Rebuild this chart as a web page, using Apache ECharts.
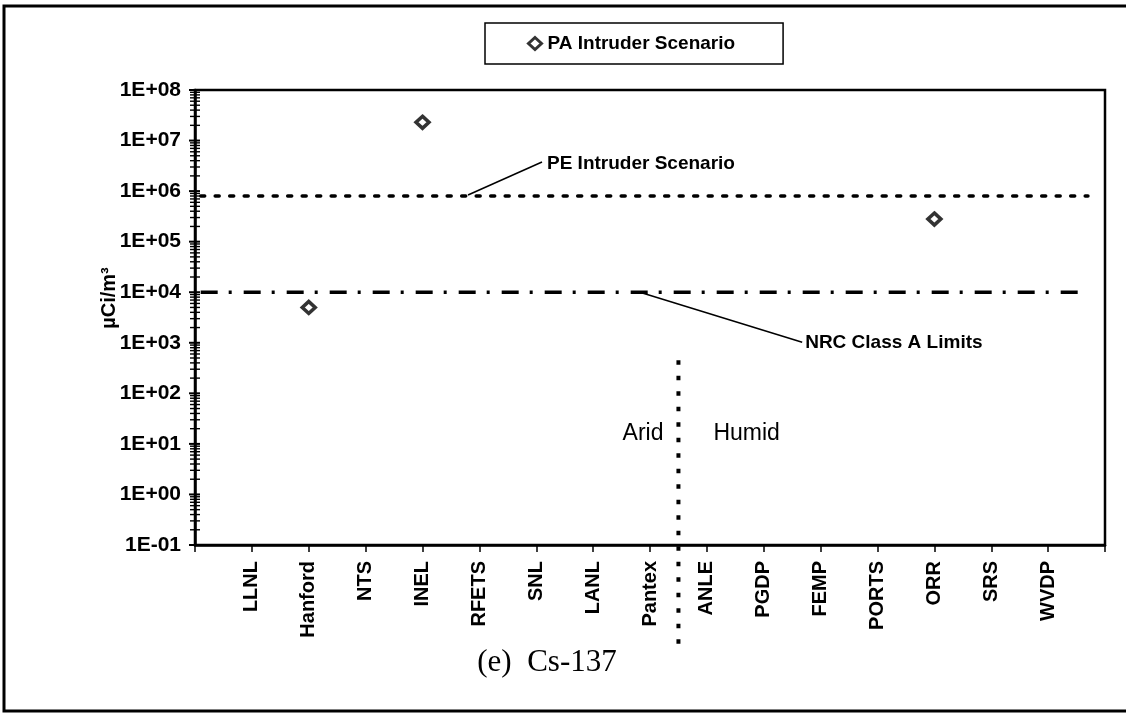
<!DOCTYPE html>
<html>
<head>
<meta charset="utf-8">
<script src="https://cdn.jsdelivr.net/npm/echarts@6/dist/echarts.min.js"></script>
<style>
  html, body { margin: 0; padding: 0; background: #fff; }
  #chart { width: 1126px; height: 715px; }
</style>
</head>
<body>
<div id="chart"></div>
<script>
// DOE sites, arid sites first, then humid sites
const sites = ['LLNL', 'Hanford', 'NTS', 'INEL', 'RFETS', 'SNL', 'LANL', 'Pantex',
               'ANLE', 'PGDP', 'FEMP', 'PORTS', 'ORR', 'SRS', 'WVDP'];

// PA intruder scenario concentrations (µCi/m³)
const paSites = ['Hanford', 'INEL', 'ORR'];
const paValues = [5.0e3, 2.3e7, 2.8e5];

// Reference levels (µCi/m³)
const peIntruderLevel = 8.0e5;
const nrcClassALimit = 1.0e4;

// Log axis decade labels, from 1E-01 up to 1E+08
const yTickLabels = ['1E-01', '1E+00', '1E+01', '1E+02', '1E+03', '1E+04', '1E+05', '1E+06', '1E+07', '1E+08'];
const minorMultipliers = [2, 3, 4, 5, 6, 7, 8, 9];

const FONT = "'Liberation Sans', Arial, sans-serif";
const SERIF = "'Liberation Serif', 'Times New Roman', serif";

// x positions: site i sits at i + 1 on a 0..16 axis
const siteX = name => sites.indexOf(name) + 1;
const lineStartX = 0.1;
const lineEndX = 15.7;
const dividerX = siteX('Pantex') + 0.5;

// tick marks for the log axis: decades and the 2..9 steps between them
const tickMarks = [];
yTickLabels.forEach((lab, i) => {
  const decade = Math.pow(10, i - 1);
  tickMarks.push([0, decade, 1]);
  if (i < yTickLabels.length - 1) {
    minorMultipliers.forEach(m => tickMarks.push([0, m * decade, 0]));
  }
});

const chart = echarts.init(document.getElementById('chart'), null, { renderer: 'canvas' });

const option = {
  animation: false,
  backgroundColor: '#fff',
  grid: {
    left: 195, top: 90, width: 910, height: 455,
    show: true, borderColor: '#000', borderWidth: 2.5, backgroundColor: 'transparent'
  },
  legend: {
    data: ['PA Intruder Scenario'],
    left: 485, top: 23,
    padding: [11, 48, 11, 42],
    itemWidth: 13, itemHeight: 12, itemGap: 0,
    itemStyle: { borderWidth: 3, borderColor: '#000', color: '#fff' },
    borderColor: '#000', borderWidth: 1.5,
    textStyle: { fontFamily: FONT, fontWeight: 'bold', fontSize: 19, color: '#000', padding: [0, 0, 0, 1] }
  },
  xAxis: {
    type: 'value', min: 0, max: 16, interval: 1,
    splitLine: { show: false },
    axisLine: { lineStyle: { color: '#000', width: 2.5 } },
    axisTick: { length: 7, lineStyle: { color: '#000', width: 1.5 } },
    axisLabel: {
      rotate: 90, margin: 16, color: '#000',
      fontFamily: FONT, fontWeight: 'bold', fontSize: 20,
      formatter: v => sites[v - 1] || ''
    }
  },
  yAxis: {
    type: 'log', logBase: 10, min: 0.1, max: 1e8,
    splitLine: { show: false },
    axisLine: { lineStyle: { color: '#000', width: 2.5 } },
    axisTick: { show: false },
    axisLabel: {
      margin: 14, color: '#000',
      fontFamily: FONT, fontWeight: 'bold', fontSize: 21,
      formatter: v => yTickLabels[Math.round(Math.log10(v)) + 1]
    }
  },
  series: [
    {
      name: 'ticks',
      type: 'custom',
      silent: true,
      clip: false,
      data: tickMarks,
      renderItem: (params, api) => {
        const p = api.coord([api.value(0), api.value(1)]);
        const major = api.value(2) === 1;
        return {
          type: 'line',
          shape: { x1: p[0] - (major ? 6 : 5), y1: p[1], x2: p[0] + 5, y2: p[1] },
          style: { stroke: '#000', lineWidth: major ? 2 : 1.4 }
        };
      }
    },
    {
      name: 'PE Intruder Scenario',
      type: 'line',
      silent: true,
      symbol: 'none',
      data: [[lineStartX, peIntruderLevel], [lineEndX, peIntruderLevel]],
      lineStyle: { color: '#000', width: 3.5, type: [4, 10.5], cap: 'round' }
    },
    {
      name: 'NRC Class A Limits',
      type: 'line',
      silent: true,
      symbol: 'none',
      data: [[lineStartX, nrcClassALimit], [lineEndX, nrcClassALimit]],
      lineStyle: { color: '#000', width: 3.5, type: [17, 11, 3, 12] }
    },
    {
      name: 'PA Intruder Scenario',
      type: 'scatter',
      symbol: 'diamond',
      symbolSize: [13, 12],
      itemStyle: { color: '#fff', borderColor: '#000', borderWidth: 3.5 },
      data: paSites.map((s, i) => [siteX(s), paValues[i]]),
      z: 5
    }
  ]
};

chart.setOption(option);

// annotations placed from axis coordinates
const px = (x, y) => chart.convertToPixel({ gridIndex: 0 }, [x, y]);
const gridBottom = px(0, 0.1)[1];

const peAnchor = px(4.8, peIntruderLevel);
const nrcAnchor = px(7.88, nrcClassALimit);
const divTop = px(dividerX, 450);
const zoneLabelY = px(dividerX, 16)[1];

const txt = (x, y, text, extra, rotation) => ({
  type: 'text', x, y, rotation: rotation || 0,
  style: Object.assign({ text, fill: '#000', font: 'bold 19px ' + FONT, textAlign: 'left', textVerticalAlign: 'middle' }, extra || {})
});

chart.setOption({
  graphic: [
    // page frame
    { type: 'rect', shape: { x: 4, y: 6, width: 1140, height: 705 }, style: { fill: 'none', stroke: '#000', lineWidth: 3 }, silent: true },
    // PE leader and label
    { type: 'line', shape: { x1: peAnchor[0], y1: peAnchor[1] - 1, x2: peAnchor[0] + 74, y2: peAnchor[1] - 34 }, style: { stroke: '#000', lineWidth: 1.5 } },
    txt(peAnchor[0] + 79, peAnchor[1] - 32, 'PE Intruder Scenario'),
    // NRC leader and label
    { type: 'line', shape: { x1: nrcAnchor[0], y1: nrcAnchor[1] + 1, x2: nrcAnchor[0] + 159, y2: nrcAnchor[1] + 50 }, style: { stroke: '#000', lineWidth: 1.5 } },
    txt(nrcAnchor[0] + 162, nrcAnchor[1] + 51, 'NRC Class A Limits'),
    // arid / humid divider
    { type: 'line', shape: { x1: divTop[0], y1: divTop[1], x2: divTop[0], y2: gridBottom + 107 },
      style: { stroke: '#000', lineWidth: 4, lineDash: [4.5, 11], lineCap: 'butt' } },
    txt(divTop[0] - 15, zoneLabelY, 'Arid', { textAlign: 'right', font: '23px ' + FONT }),
    txt(divTop[0] + 35, zoneLabelY, 'Humid', { font: '23px ' + FONT }),
    // axis title, reading bottom to top
    txt(109, 298, 'µCi/m³', { textAlign: 'center', font: 'bold 20px ' + FONT }, Math.PI / 2),
    // panel caption
    txt(547, 663, '(e)  Cs-137', { textAlign: 'center', font: '31px ' + SERIF })
  ]
});
</script>
</body>
</html>
